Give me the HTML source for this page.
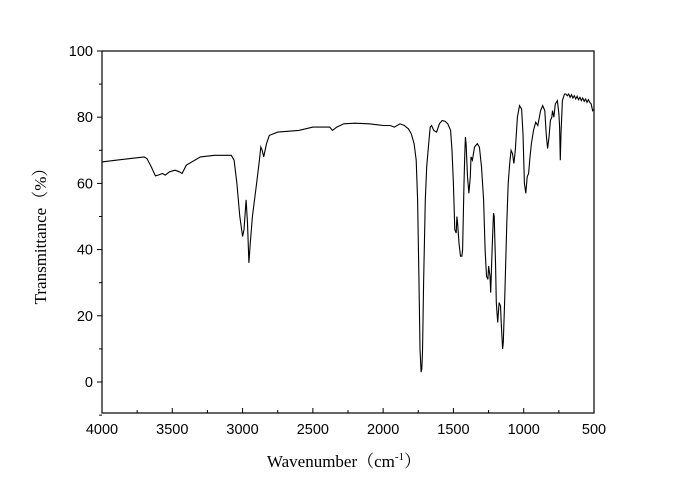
<!DOCTYPE html>
<html><head><meta charset="utf-8"><style>
body{margin:0;background:#fff;width:693px;height:487px;overflow:hidden}
svg text{font-family:"Liberation Sans",Arial,sans-serif;font-size:14.5px;fill:#000}
</style></head><body>
<svg id="s" width="693" height="487" xmlns="http://www.w3.org/2000/svg">
<rect x="102" y="51" width="492" height="362" fill="none" stroke="#000" stroke-width="1.2"/>
<g id="ticks" stroke="#000" stroke-width="1"></g>
<g id="lbl"></g>
<path id="p" fill="none" stroke="#000" stroke-width="1.1"/>
<text x="46" y="232" transform="rotate(-90 46 232)" text-anchor="middle" style="font-family:'Liberation Serif','Noto Serif CJK SC',serif;font-size:17px">Transmittance（%）</text>
<text x="344" y="467" text-anchor="middle" style="font-family:'Liberation Serif','Noto Serif CJK SC',serif;font-size:17px">Wavenumber（cm<tspan dy="-7" style="font-size:11px">-1</tspan><tspan dy="7">）</tspan></text>
</svg>
<script>
var X=w=>102+(4000-w)*0.14057, Y=t=>382-t*3.31;
var d=[4000,66.5,3900,67,3800,67.5,3700,68,3680,67.5,3650,65,3620,62.3,3600,62.5,3570,63,3550,62.5,3520,63.5,3480,64,3450,63.5,3430,63,3400,65.5,3300,68,3200,68.5,3080,68.5,3060,67,3040,60,3020,50,3000,44,2990,46,2975,55,2965,48,2955,36,2945,42,2930,50,2900,60,2880,67,2870,71,2860,70,2850,68,2830,72,2810,74.5,2750,75.5,2600,76,2500,77,2380,77,2360,76,2330,77,2280,78,2200,78.2,2100,78,2000,77.5,1950,77.5,1920,77,1880,78,1850,77.5,1820,76.5,1800,75,1780,72,1765,67,1755,55,1745,30,1738,10,1730,3,1725,4,1720,9,1712,30,1700,55,1690,65,1680,70,1665,77,1655,77.5,1640,76,1620,75.5,1600,78,1580,79,1560,78.8,1540,78,1520,76,1510,70,1500,60,1490,46,1480,45,1475,50,1470,48,1460,42,1450,38,1440,38,1435,40,1425,60,1420,68,1415,74,1410,72,1400,62,1390,57,1380,62,1375,68,1365,67,1350,71,1330,72,1315,71,1300,65,1285,55,1275,40,1265,32,1255,31,1250,35,1240,32,1235,27,1225,40,1215,51,1210,50,1200,35,1195,24,1185,18,1175,24,1165,23,1160,18,1150,10,1145,12,1135,25,1120,48,1110,60,1100,66,1090,70,1080,69,1070,66,1060,70,1045,80,1030,83.5,1015,82.5,1005,75,995,60,985,57,975,62,965,63,955,68,945,72,930,76,915,78.5,900,77.5,880,82,865,83.5,850,82,840,75,830,70.5,820,74,810,79,800,80,795,82,785,80,775,84,760,85,750,81,745,77,740,67,735,75,725,85,710,87,700,87,690,86.5,680,87,670,86,660,86.8,650,85.8,640,86.5,630,85.5,620,86.3,610,85.3,600,86,590,85,580,85.8,570,84.8,560,85.5,550,84.5,540,85.3,530,84.5,520,84,510,82,500,82.5];
var s="";for(var i=0;i<d.length;i+=2)s+=(i?"L":"M")+X(d[i]).toFixed(1)+" "+Y(d[i+1]).toFixed(1);
document.getElementById("p").setAttribute("d",s);
var t="",l="";
for(var v=-10;v<=100;v+=10){var y=Y(v);var L=(v%20==0)?5:3;t+='<line x1="102" y1="'+y+'" x2="'+(102-L)+'" y2="'+y+'"/>';if(v>=0&&v%20==0)l+='<text x="93" y="'+(y+5)+'" text-anchor="end">'+v+'</text>';}
for(var w=500;w<=4000;w+=250){var x=X(w);var L=(w%500==0)?5:3;t+='<line x1="'+x+'" y1="413" x2="'+x+'" y2="'+(413-L)+'"/>';if(w%500==0)l+='<text x="'+x+'" y="434" text-anchor="middle">'+w+'</text>';}
document.getElementById("ticks").innerHTML=t;document.getElementById("lbl").innerHTML=l;
</script>
</body></html>
